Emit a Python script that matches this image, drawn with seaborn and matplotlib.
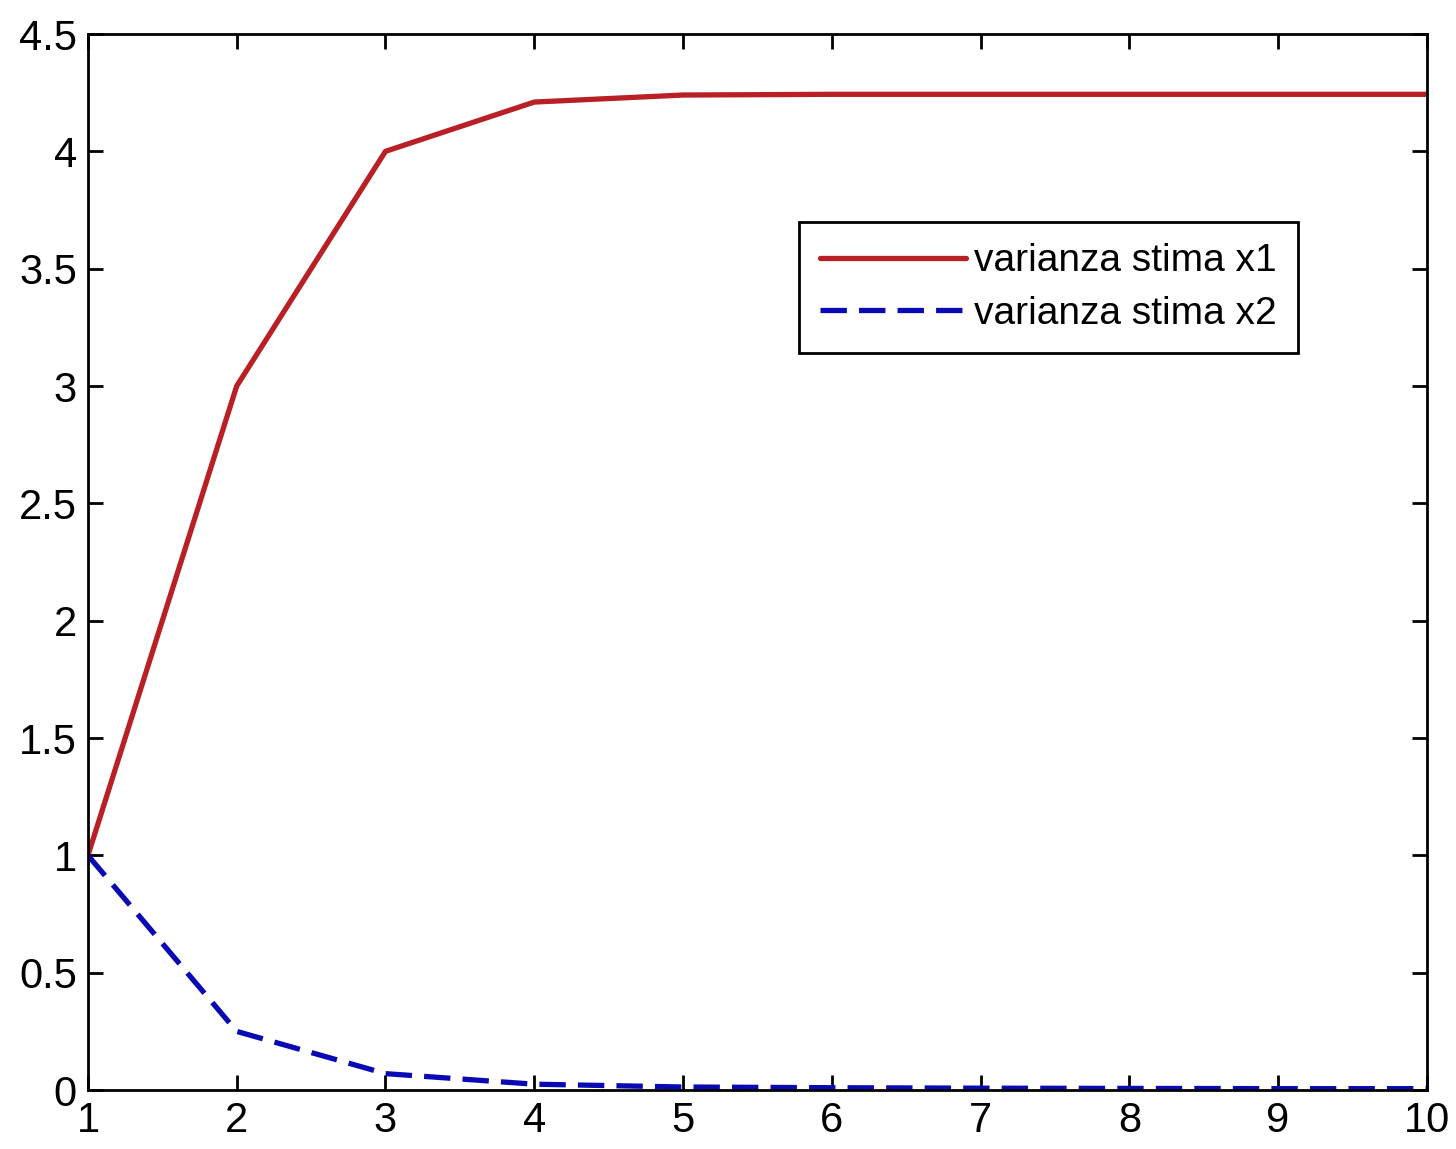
import numpy as np
import pandas as pd
import matplotlib
matplotlib.use("Agg")
import matplotlib.pyplot as plt
import seaborn as sns

steps = [1, 2, 3, 4, 5, 6, 7, 8, 9, 10]
var_x1 = [1.0, 3.0, 4.0, 4.21, 4.24, 4.243, 4.243, 4.243, 4.243, 4.243]
var_x2 = [1.0, 0.25, 0.07, 0.025, 0.013, 0.010, 0.008, 0.007, 0.006, 0.006]
labels = ["varianza stima x1", "varianza stima x2"]
x_ticks = [1, 2, 3, 4, 5, 6, 7, 8, 9, 10]
y_ticks = [0, 0.5, 1, 1.5, 2, 2.5, 3, 3.5, 4, 4.5]
y_ticklabels = ["0", "0.5", "1", "1.5", "2", "2.5", "3", "3.5", "4", "4.5"]

df = pd.DataFrame({
    "step": steps * 2,
    "value": var_x1 + var_x2,
    "serie": [labels[0]] * len(steps) + [labels[1]] * len(steps),
})

sns.set_theme(style="white")
plt.rcParams["font.family"] = ["Liberation Sans", "DejaVu Sans"]
plt.rcParams["text.color"] = "black"

fig = plt.figure(figsize=(14.56, 11.49), dpi=100)
ax = fig.add_axes([0.0604, 0.0513, 0.9196, 0.9191])

lw = 3.8
sns.lineplot(data=df, x="step", y="value", hue="serie", style="serie",
             palette={labels[0]: "#b82025", labels[1]: "#0a0ab4"},
             dashes={labels[0]: "", labels[1]: (5, 2.3)},
             linewidth=lw, ax=ax)

ax.set_xlim(1, 10)
ax.set_ylim(0, 4.5)
ax.set_xticks(x_ticks)
ax.set_xticklabels([str(t) for t in x_ticks])
ax.set_yticks(y_ticks)
ax.set_yticklabels(y_ticklabels)
ax.set_xlabel("")
ax.set_ylabel("")
for s in ax.spines.values():
    s.set_color("black")
    s.set_linewidth(2)
    s.set_visible(True)
ax.tick_params(axis="both", which="both", direction="in", length=11, width=2,
               top=True, right=True, bottom=True, left=True,
               labelsize=30, colors="black", pad=8)

leg = ax.legend(loc="upper right", bbox_to_anchor=(0.9037, 0.822),
                borderaxespad=0.0,
                fontsize=28, frameon=True, fancybox=False, edgecolor="black",
                handlelength=3.75, handletextpad=0.2, borderpad=0.55,
                labelspacing=0.42, framealpha=1, labelcolor="black")
leg.get_frame().set_linewidth(2)
for line in leg.get_lines():
    line.set_linewidth(lw)

fig.savefig("out.png", dpi=100)
